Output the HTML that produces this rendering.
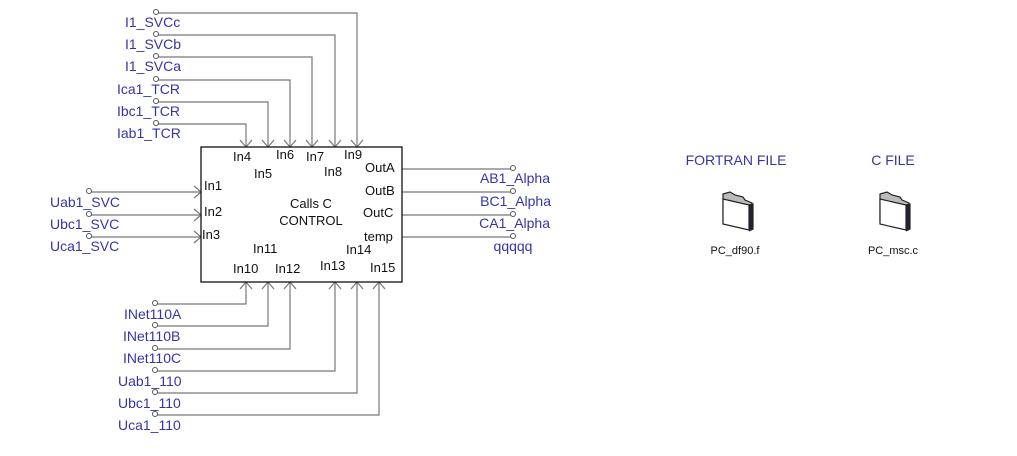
<!DOCTYPE html>
<html><head><style>
html,body{margin:0;padding:0;background:#fff;}
svg text{font-family:"Liberation Sans",Arial,sans-serif;}
.b{fill:#3535a8;font-size:14px;}
.k{fill:#111;font-size:13px;}
</style></head><body>
<svg width="1017" height="451" viewBox="0 0 1017 451" xmlns="http://www.w3.org/2000/svg">
<g stroke="#777" stroke-width="1.2" fill="none">
<path d="M156 13H357V147M156 35H335V147M156 57H312V147M156 80H290V147M156 102H268V147M156 124H246V147"/>
<path d="M155 304H246V282M155 326H268V282M155 349H290V282M155 371H335V282M155 393H357V282M155 415H379V282"/>
<path d="M89 192H201M89 215H201M89 237H201"/>
<path d="M402 169H513M402 192H513M402 215H513M402 237H513"/>
<path d="M240 140L246 147L252 140M262 140L268 147L274 140M284 140L290 147L296 140M306 140L312 147L318 140M329 140L335 147L341 140M351 140L357 147L363 140"/>
<path d="M240 289L246 282L252 289M262 289L268 282L274 289M284 289L290 282L296 289M329 289L335 282L341 289M351 289L357 282L363 289M373 289L379 282L385 289"/>
<path d="M194 186L201 192L194 198M194 209L201 215L194 221M194 231L201 237L194 243"/>
</g>
<g fill="#fff" stroke="#555" stroke-width="1">
<circle cx="156" cy="12" r="2.5"/><circle cx="156" cy="34" r="2.5"/><circle cx="156" cy="56" r="2.5"/><circle cx="156" cy="79" r="2.5"/><circle cx="156" cy="101" r="2.5"/><circle cx="156" cy="123" r="2.5"/>
<circle cx="155" cy="303" r="2.5"/><circle cx="155" cy="325" r="2.5"/><circle cx="155" cy="348" r="2.5"/><circle cx="155" cy="370" r="2.5"/><circle cx="155" cy="392" r="2.5"/><circle cx="155" cy="414" r="2.5"/>
<circle cx="89" cy="191" r="2.5"/><circle cx="89" cy="214" r="2.5"/><circle cx="89" cy="236" r="2.5"/>
<circle cx="513" cy="168" r="2.5"/><circle cx="513" cy="191" r="2.5"/><circle cx="513" cy="214" r="2.5"/><circle cx="513" cy="236" r="2.5"/>
</g>
<rect x="201" y="147" width="201" height="135" fill="none" stroke="#111" stroke-width="1.3"/>
<g class="b">
<text x="125" y="27">I1_SVCc</text><text x="125" y="49">I1_SVCb</text><text x="125" y="71">I1_SVCa</text>
<text x="117" y="94">Ica1_TCR</text><text x="117" y="116">Ibc1_TCR</text><text x="117" y="138">Iab1_TCR</text>
<text x="50" y="207">Uab1_SVC</text><text x="50" y="229">Ubc1_SVC</text><text x="50" y="251">Uca1_SVC</text>
<text x="550" y="183" text-anchor="end">AB1_Alpha</text><text x="551" y="206" text-anchor="end">BC1_Alpha</text><text x="550" y="228" text-anchor="end">CA1_Alpha</text><text x="513" y="251" text-anchor="middle">qqqqq</text>
<text x="124" y="319">INet110A</text><text x="123" y="341">INet110B</text><text x="123" y="363">INet110C</text>
<text x="118" y="386">Uab1_110</text><text x="118" y="408">Ubc1_110</text><text x="118" y="430">Uca1_110</text>
<text x="736" y="165" text-anchor="middle">FORTRAN FILE</text><text x="893" y="165" text-anchor="middle">C FILE</text>
</g>
<g class="k">
<text x="233" y="161">In4</text><text x="276" y="159">In6</text><text x="306" y="161">In7</text><text x="344" y="159">In9</text>
<text x="254" y="178">In5</text><text x="324" y="176">In8</text><text x="365" y="172">OutA</text>
<text x="204" y="190">In1</text><text x="365" y="195">OutB</text><text x="204" y="216">In2</text><text x="363" y="217">OutC</text>
<text x="202" y="239">In3</text><text x="364" y="241">temp</text>
<text x="253" y="253">In11</text><text x="346" y="254">In14</text>
<text x="233" y="273">In10</text><text x="275" y="273">In12</text><text x="320" y="270">In13</text><text x="370" y="272">In15</text>
<text x="311" y="208" text-anchor="middle">Calls C</text><text x="311" y="225" text-anchor="middle">CONTROL</text>
<text x="735" y="254" text-anchor="middle" font-size="11">PC_df90.f</text><text x="893" y="254" text-anchor="middle" font-size="11">PC_msc.c</text>
</g>
<g stroke="#222" stroke-width="1.2">
<g>
<path d="M723 194L730 192L735 195L743 197L745 200L752 203L752 228L723 222Z" fill="#bbb"/>
<path d="M723 199L749 205L749 230L723 224Z" fill="#fff"/>
<path d="M749 205L753 204L753 229L749 231" fill="#223" />
</g>
<g transform="translate(157,0)">
<path d="M723 194L730 192L735 195L743 197L745 200L752 203L752 228L723 222Z" fill="#bbb"/>
<path d="M723 199L749 205L749 230L723 224Z" fill="#fff"/>
<path d="M749 205L753 204L753 229L749 231" fill="#223" />
</g>
</g>
</svg>
</body></html>
